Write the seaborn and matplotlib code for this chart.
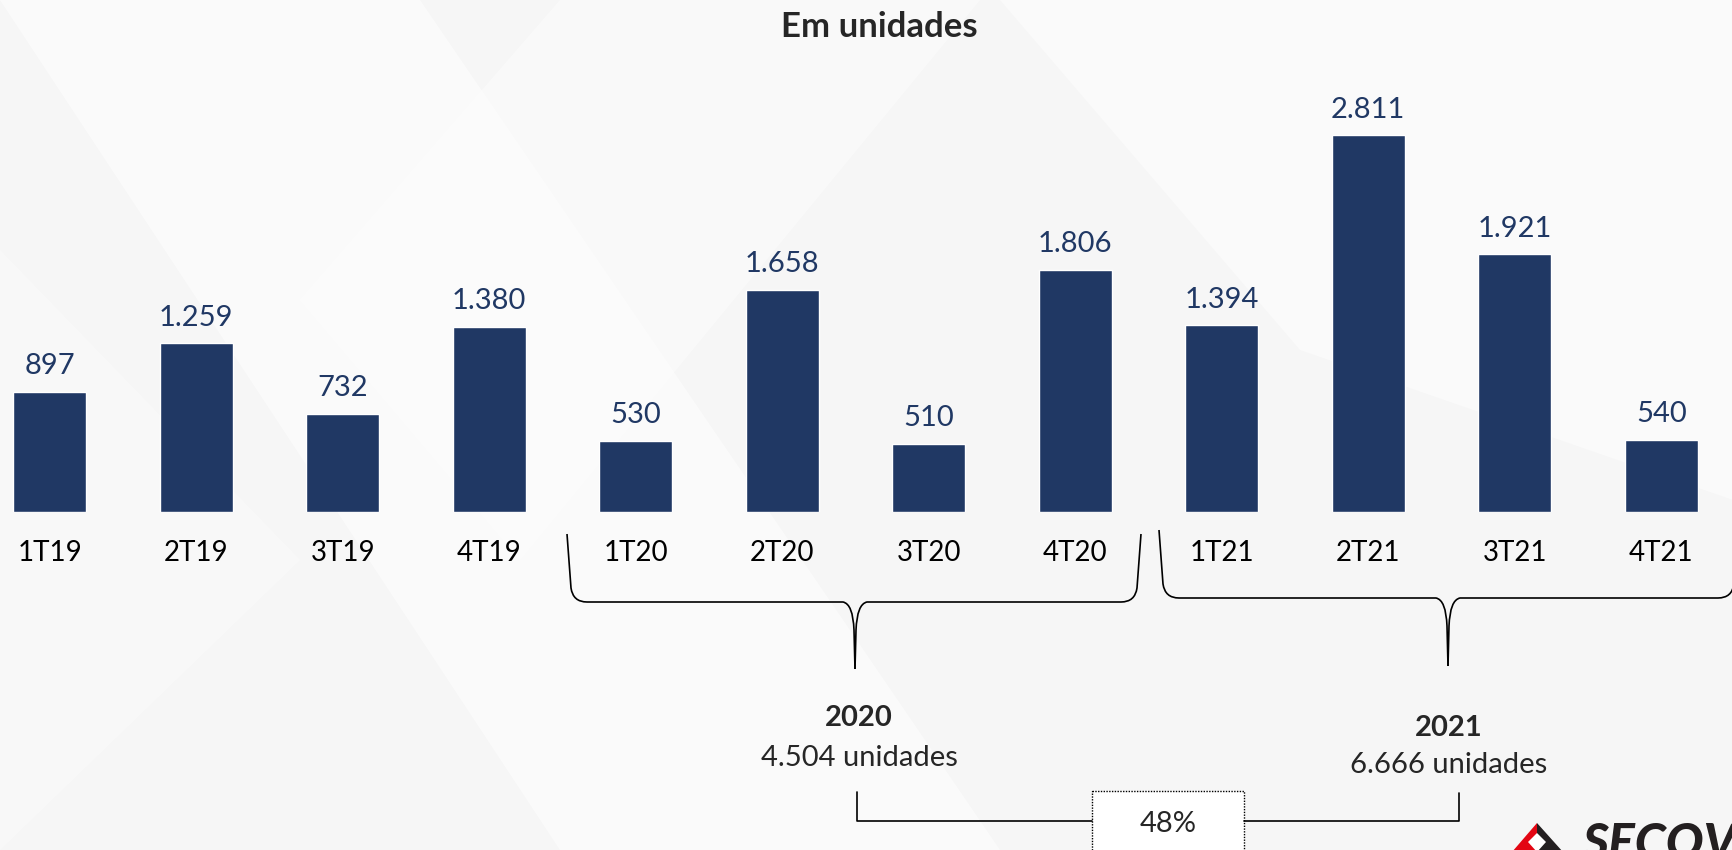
import matplotlib
matplotlib.use("Agg")
import matplotlib.pyplot as plt
from matplotlib.path import Path
from matplotlib.patches import PathPatch, Polygon, Rectangle
import seaborn as sns

# data
categories = ["1T19", "2T19", "3T19", "4T19", "1T20", "2T20", "3T20", "4T20",
              "1T21", "2T21", "3T21", "4T21"]
values = [897, 1259, 732, 1380, 530, 1658, 510, 1806, 1394, 2811, 1921, 540]
year_labels = ["2020", "2021"]
year_totals = ["4.504 unidades", "6.666 unidades"]
growth_label = "48%"
title = "Em unidades"

NAVY = "#203864"
W, H = 1733, 850

sns.set_theme(style="white")
plt.rcParams["font.family"] = ["Lato", "DejaVu Sans"]

fig = plt.figure(figsize=(W / 100, H / 100), dpi=100)
fig.patch.set_facecolor("#f6f6f6")

# background with faint diagonal shapes (pixel coords)
bg = fig.add_axes([0, 0, 1, 1], zorder=0)
bg.set_xlim(0, W)
bg.set_ylim(H, 0)
bg.axis("off")
bg.patch.set_alpha(0)
for pts, a in [
    ([(0, 0), (420, 0), (1000, 850), (560, 850)], 0.5),
    ([(560, 0), (980, 0), (520, 560), (300, 300)], 0.4),
    ([(1000, 0), (1733, 0), (1733, 500), (1300, 350)], 0.45),
    ([(0, 250), (300, 560), (0, 850)], 0.3),
]:
    bg.add_patch(Polygon(pts, closed=True, facecolor="white", edgecolor="none", alpha=a))

# bar axes: baseline at pixel 512
base_px = 512
px_per_unit = 0.1341
ax = fig.add_axes([0, (H - base_px) / H, 1, base_px / H], zorder=1)
sns.barplot(x=categories, y=values, color=NAVY, saturation=1, width=0.5, ax=ax)
ax.set_xlim(-0.339, 11.49)
ax.set_ylim(0, base_px / px_per_unit)
ax.patch.set_alpha(0)
sns.despine(ax=ax, left=True, bottom=True)
ax.set_yticks([])
ax.set_xlabel("")
ax.set_ylabel("")
ax.tick_params(axis="x", length=0, pad=20, labelsize=20, labelcolor="black")
ax.bar_label(ax.containers[0],
             labels=[f"{v:,}".replace(",", ".") for v in values],
             padding=9, fontsize=21, color=NAVY)

# overlay in pixel coords
ov = fig.add_axes([0, 0, 1, 1], zorder=2)
ov.set_xlim(0, W)
ov.set_ylim(H, 0)
ov.axis("off")
ov.patch.set_alpha(0)

ov.text(879, 27, title, ha="center", va="center", fontsize=25, fontweight="bold")


def brace(x0, x1, cx, ytop, yh, ytip):
    verts = [
        (x0, ytop), (x0 + 4, yh - 14), (x0 + 6, yh), (x0 + 20, yh),
        (cx - 12, yh), (cx - 2, yh + 2), (cx - 1, yh + 28), (cx, ytip),
    ]
    verts2 = [
        (cx, ytip), (cx + 1, yh + 28), (cx + 2, yh + 2), (cx + 12, yh),
        (x1 - 20, yh), (x1 - 6, yh), (x1 - 4, yh - 14), (x1, ytop),
    ]
    codes = [Path.MOVETO, Path.LINETO, Path.CURVE3, Path.CURVE3,
             Path.LINETO, Path.CURVE3, Path.CURVE3, Path.LINETO]
    for v in (verts, verts2):
        ov.add_patch(PathPatch(Path(v, codes), facecolor="none", edgecolor="black", lw=1.2))


brace(567, 1141, 855, 534, 602, 669)
brace(1159, 1738, 1448, 530, 598, 666)

# year annotations
for (x, y1, y2), lab, tot in zip([(859, 718, 758), (1449, 728, 765)], year_labels, year_totals):
    ov.text(x, y1, lab, ha="center", va="center", fontsize=21, fontweight="bold")
    ov.text(x, y2, tot, ha="center", va="center", fontsize=21)

# growth connector
ov.plot([857, 857, 1092], [792, 821, 821], color="black", lw=1.2)
ov.plot([1244, 1459, 1459], [821, 821, 793], color="black", lw=1.2)
ov.add_patch(Rectangle((1092, 791), 152, 65, facecolor="white", edgecolor="black",
                       lw=1.0, linestyle=(0, (1, 1))))
ov.text(1168, 824, growth_label, ha="center", va="center", fontsize=21)

# logo (cut off at corner, as in the source slide)
ov.add_patch(Polygon([(1512, 852), (1537, 823), (1537, 852)], facecolor="#e30613", edgecolor="none"))
ov.add_patch(Polygon([(1537, 823), (1563, 852), (1537, 852)], facecolor="#231f20", edgecolor="none"))
ov.add_patch(Polygon([(1537, 833), (1546, 842), (1537, 852), (1528, 842)], facecolor="white", edgecolor="none"))
ov.text(1582, 822, "SECOVI", ha="left", va="top", fontsize=36, fontweight="black",
        fontstyle="italic", color="#231f20")

fig.savefig("out.png", dpi=100, facecolor=fig.get_facecolor())
